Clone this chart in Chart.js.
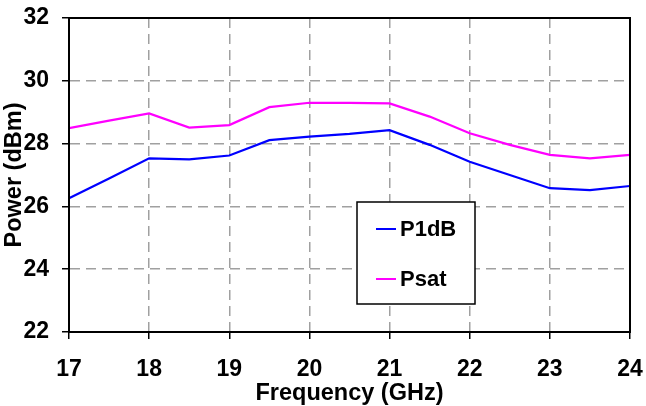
<!DOCTYPE html>
<html>
<head>
<meta charset="utf-8">
<script src="https://cdn.jsdelivr.net/npm/chart.js@4.4.1/dist/chart.umd.min.js"></script>
<style>
  html, body { margin: 0; padding: 0; background: #fff; }
  #wrap { width: 646px; height: 406px; }
</style>
</head>
<body>
<div id="wrap"><canvas id="myChart" width="646" height="406"></canvas></div>
<script>
// frequency points (GHz)
var freq = [17, 17.5, 18, 18.5, 19, 19.5, 20, 20.5, 21, 21.5, 22, 22.5, 23, 23.5, 24]
// output power (dBm)
var p1db = [26.26, 26.89, 27.53, 27.50, 27.62, 28.11, 28.22, 28.31, 28.43, 27.96, 27.42, 27.00, 26.58, 26.52, 26.65]
var psat = [28.49, 28.73, 28.96, 28.51, 28.59, 29.16, 29.30, 29.30, 29.28, 28.86, 28.33, 27.96, 27.64, 27.53, 27.64]
var xTicks = [17, 18, 19, 20, 21, 22, 23, 24]
var yTicks = [22, 24, 26, 28, 30, 32]

var wFam = "'Liberation Sans', Arial, sans-serif"
var wFont = { family: wFam, size: 23, weight: 'bold' }
var wTitleFont = { family: wFam, size: 23.5, weight: 'bold', lineHeight: 1 }

function toPts(arr) {
    return freq.map((f, i) => ({ x: f, y: arr[i] }))
}

// frame round the plot + the boxed legend inside it
var framePlugin = {
    id: 'frame',
    afterDraw: function (chart) {
        var ctx = chart.ctx
        var a = chart.chartArea
        ctx.save()
        ctx.strokeStyle = '#000'
        ctx.lineWidth = 2
        ctx.strokeRect(a.left, a.top, a.right - a.left, a.bottom - a.top)

        // legend box
        var bx = a.left + 288, by = a.top + 184, bw = 118, bh = 102
        ctx.fillStyle = '#fff'
        ctx.fillRect(bx, by, bw, bh)
        ctx.lineWidth = 1.5
        ctx.strokeStyle = '#000'
        ctx.strokeRect(bx, by, bw, bh)
        ctx.font = 'bold 22px ' + wFam
        ctx.textBaseline = 'middle'
        chart.data.datasets.forEach((ds, i) => {
            var yy = by + 27 + i * 50
            ctx.strokeStyle = ds.borderColor
            ctx.lineWidth = 2
            ctx.beginPath()
            ctx.moveTo(bx + 19, yy)
            ctx.lineTo(bx + 39, yy)
            ctx.stroke()
            ctx.fillStyle = '#000'
            ctx.fillText(ds.label, bx + 43, yy + 1)
        })
        ctx.restore()
    }
}

var gridCfg = function (ends) {
    return {
        color: (c) => (c.tick && ends.indexOf(c.tick.value) >= 0) ? 'rgba(0,0,0,0)' : '#a0a0a0',
        lineWidth: 1.5,
        tickLength: 7,
        tickColor: '#000',
        tickWidth: 1.5,
        tickBorderDash: []
    }
}

var ctx = document.getElementById('myChart').getContext('2d')
var myChart = new Chart(ctx, {
    type: 'line',
    data: {
        datasets: [{
            label: 'P1dB',
            data: toPts(p1db),
            borderColor: '#0000ff',
            borderWidth: 2.2,
            pointRadius: 0,
            tension: 0
        }, {
            label: 'Psat',
            data: toPts(psat),
            borderColor: '#ff00ff',
            borderWidth: 2.2,
            pointRadius: 0,
            tension: 0
        }]
    },
    options: {
        responsive: false,
        animation: false,
        layout: { padding: { top: 18, right: 16, left: 0, bottom: 0 } },
        plugins: {
            legend: { display: false },
            tooltip: { enabled: false }
        },
        scales: {
            x: {
                type: 'linear',
                min: 17,
                max: 24,
                afterBuildTicks: (s) => { s.ticks = xTicks.map(v => ({ value: v })) },
                afterFit: (s) => { s.height = 74; s.paddingLeft = 0; s.paddingRight = 0 },
                ticks: { color: '#000', font: wFont, padding: 17 },
                grid: gridCfg([17, 24]),
                border: { display: true, color: '#000', width: 2, dash: [10, 6] },
                title: { display: true, text: 'Frequency (GHz)', color: '#000', font: wTitleFont, padding: { top: 0, bottom: 1 } }
            },
            y: {
                min: 22,
                max: 32,
                afterBuildTicks: (s) => { s.ticks = yTicks.map(v => ({ value: v })) },
                afterFit: (s) => { s.width = 69; s.paddingTop = 0; s.paddingBottom = 0 },
                ticks: { color: '#000', font: wFont, padding: 13 },
                grid: gridCfg([22, 32]),
                border: { display: true, color: '#000', width: 2, dash: [10, 6] },
                title: { display: true, text: 'Power (dBm)', color: '#000', font: wTitleFont, padding: { top: 3, bottom: 0 } }
            }
        }
    },
    plugins: [framePlugin]
})
</script>
</body>
</html>
